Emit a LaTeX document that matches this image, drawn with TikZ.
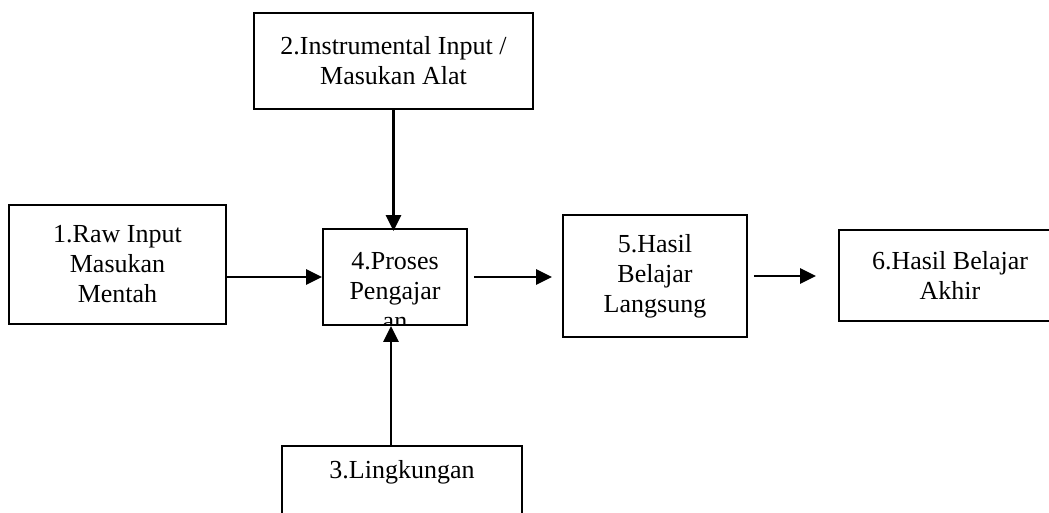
\documentclass[tikz,border=0pt]{standalone}
\usepackage{fontspec}
\setmainfont{Liberation Serif}
\usetikzlibrary{arrows.meta}

\begin{document}
\begin{tikzpicture}[x=1pt,y=-1pt]
  % Styles
  \tikzstyle{block}=[draw,line width=1.8pt,align=center,inner sep=0pt,font=\fontsize{26}{30}\selectfont]
  \tikzstyle{block text}=[align=center,inner sep=0pt,font=\fontsize{26}{30}\selectfont]
  \tikzstyle{flow line}=[line width=2.7pt,-{Triangle[length=16pt,width=15pt]}]

  \useasboundingbox (0,0) rectangle (1049,512);
  \clip (0,0) rectangle (1049,512);

  % Boxes
  \node[block,minimum width=217pt,minimum height=119pt] (raw) at (117.5,264.5) {1.Raw Input\\Masukan\\Mentah};
  \node[block,minimum width=279pt,minimum height=96pt] (alat) at (393.5,61) {2.Instrumental Input /\\Masukan Alat};
  \node[block,minimum width=240pt,minimum height=96pt,anchor=north,text height=18pt,text depth=48pt] (ling) at (402,445) {3.Lingkungan};
  \node[block,minimum width=144pt,minimum height=96pt,
    path picture={\node[block text] at ([yshift=-14pt]path picture bounding box.center) {4.Proses\\Pengajar\\an};}] (proses) at (395,277) {};
  \node[block,minimum width=184pt,minimum height=122pt] (langsung) at (655,276) {5.Hasil\\Belajar\\Langsung};
  \node[block,minimum width=222pt,minimum height=91pt] (akhir) at (950,275.5) {6.Hasil Belajar\\Akhir};

  % Arrows
  \draw[flow line] (raw.east |- proses.west) -- (proses.west);
  \draw[flow line,shorten <=3pt] ([yshift=3pt]alat.south) -- ([yshift=-3pt]alat.south |- proses.north);
  \draw[flow line] ([xshift=-4pt]proses.south |- ling.north) -- ([xshift=-4pt]proses.south);
  \draw[flow line,shorten <=6pt,shorten >=10pt] (proses.east) -- (langsung.west |- proses.east);
  \draw[flow line,shorten <=6pt,shorten >=22pt] (langsung.east) -- (akhir.west |- langsung.east);
\end{tikzpicture}
\end{document}
